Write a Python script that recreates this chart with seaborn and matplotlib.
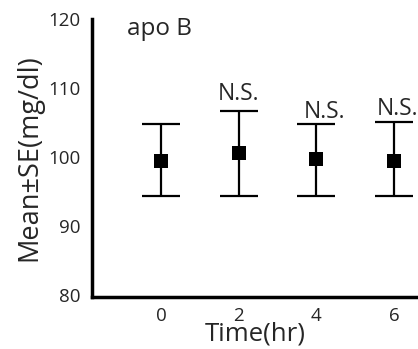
import numpy as np
import pandas as pd
import matplotlib
matplotlib.use("Agg")
import matplotlib.pyplot as plt
import seaborn as sns

# data
times = [0, 2, 4, 6]
means = [99.4, 100.6, 99.7, 99.4]
upper = [104.7, 106.6, 104.7, 105.0]
lower = [94.4, 94.4, 94.4, 94.4]
sig_labels = ["", "N.S.", "N.S.", "N.S."]
y_ticks = [80, 90, 100, 110, 120]

df = pd.DataFrame({"time": times, "mean": means, "upper": upper, "lower": lower})

sns.set_style("white")
plt.rcParams["font.family"] = ["Open Sans", "DejaVu Sans"]

fig = plt.figure(figsize=(4.18, 3.49), dpi=100)
ax = fig.add_axes([0.220, 0.149, 0.78, 0.797])

yerr = np.vstack([df["mean"] - df["lower"], df["upper"] - df["mean"]])
ax.errorbar(df["time"], df["mean"], yerr=yerr, fmt="none", ecolor="black",
            elinewidth=1.6, capsize=14, capthick=1.6, zorder=2)
sns.scatterplot(data=df, x="time", y="mean", marker="s", s=90, color="black",
                edgecolor="black", linewidth=0, ax=ax, zorder=3)

# N.S. labels above the caps (small hand placement like the original)
dx = [0, 0, 0.2, -0.44]
dy = [0, 1.7, 1.0, 1.1]
ha = ["center", "center", "center", "left"]
for t, up, lab, ox, oy, h in zip(times, upper, sig_labels, dx, dy, ha):
    if lab:
        ax.text(t + ox, up + oy, lab, ha=h, va="baseline", fontsize=16.5)

ax.text(-0.88, 118.6, "apo B", ha="left", va="center", fontsize=17.5)

ax.set_xlim(-1.78, 6.62)
ax.set_ylim(79.7, 119.5)
ax.set_xticks(times)
ax.set_yticks(y_ticks)
ax.tick_params(axis="both", length=0, labelsize=13.5)
ax.tick_params(axis="y", pad=8)
ax.tick_params(axis="x", pad=7)

ax.set_xlabel("Time(hr)", fontsize=18.5, labelpad=-2)
ax.set_ylabel("Mean\u00b1SE(mg/dl)", fontsize=19.5, labelpad=4)

sns.despine(ax=ax)
for side in ["left", "bottom"]:
    ax.spines[side].set_linewidth(2.5)
    ax.spines[side].set_color("black")

fig.savefig("out.png", dpi=100)
